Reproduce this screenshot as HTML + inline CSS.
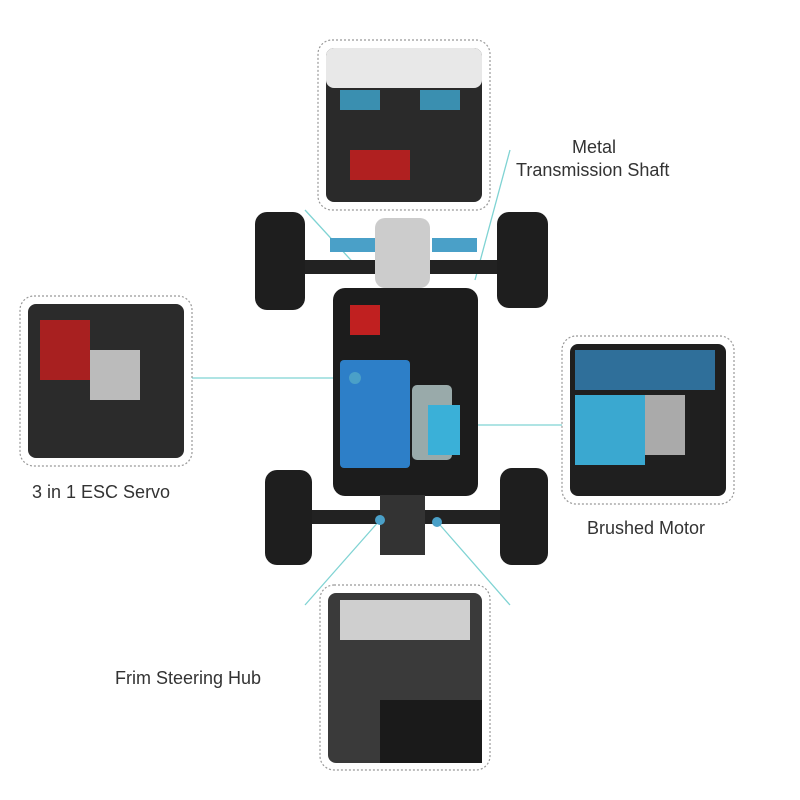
<!DOCTYPE html>
<html><head><meta charset="utf-8"><style>
html,body{margin:0;padding:0;background:#fff;width:800px;height:800px;overflow:hidden}
svg{display:block}
text{font-family:"Liberation Sans",sans-serif;fill:#333;font-size:18px}
</style></head><body>
<svg width="800" height="800" viewBox="0 0 800 800">
<!-- connector lines -->
<g stroke="#7fd3d3" stroke-width="1.3" fill="none">
<line x1="305" y1="210" x2="360" y2="270"/>
<line x1="510" y1="150" x2="475" y2="280"/>
<line x1="192" y1="378" x2="348" y2="378"/>
<line x1="458" y1="425" x2="562" y2="425"/>
<line x1="380" y1="520" x2="305" y2="605"/>
<line x1="440" y1="525" x2="510" y2="605"/>
</g>
<!-- boxes -->
<g fill="none" stroke="#999" stroke-width="1.2" stroke-dasharray="2,2">
<rect x="318" y="40" width="172" height="170" rx="14"/>
<rect x="20" y="296" width="172" height="170" rx="14"/>
<rect x="562" y="336" width="172" height="168" rx="14"/>
<rect x="320" y="585" width="170" height="185" rx="14"/>
</g>
<!-- top photo -->
<rect x="326" y="48" width="156" height="154" rx="8" fill="#2a2a2a"/>
<rect x="326" y="48" width="156" height="40" rx="8" fill="#e8e8e8"/>
<rect x="340" y="90" width="40" height="20" fill="#3a8fb0"/>
<rect x="420" y="90" width="40" height="20" fill="#3a8fb0"/>
<rect x="350" y="150" width="60" height="30" fill="#b02020"/>
<!-- left photo -->
<rect x="28" y="304" width="156" height="154" rx="8" fill="#2b2b2b"/>
<rect x="40" y="320" width="50" height="60" fill="#a82020"/>
<rect x="90" y="350" width="50" height="50" fill="#bbb"/>
<!-- right photo -->
<rect x="570" y="344" width="156" height="152" rx="8" fill="#1f1f1f"/>
<rect x="575" y="350" width="140" height="40" fill="#2f6f9a"/>
<rect x="575" y="395" width="70" height="70" fill="#3aa8d0"/>
<rect x="645" y="395" width="40" height="60" fill="#aaa"/>
<!-- bottom photo -->
<rect x="328" y="593" width="154" height="170" rx="8" fill="#3a3a3a"/>
<rect x="340" y="600" width="130" height="40" fill="#cfcfcf"/>
<rect x="380" y="700" width="102" height="63" fill="#1a1a1a"/>
<!-- car -->
<g>
<rect x="300" y="260" width="210" height="14" fill="#222"/>
<rect x="305" y="510" width="200" height="14" fill="#222"/>
<rect x="333" y="288" width="145" height="208" rx="12" fill="#1c1c1c"/>
<rect x="375" y="218" width="55" height="70" rx="10" fill="#ccc"/>
<rect x="330" y="238" width="45" height="14" fill="#4aa0c8"/>
<rect x="432" y="238" width="45" height="14" fill="#4aa0c8"/>
<rect x="340" y="360" width="70" height="108" rx="4" fill="#2d7fc8"/>
<rect x="412" y="385" width="40" height="75" rx="5" fill="#9aa"/>
<rect x="428" y="405" width="32" height="50" fill="#3ab0d8"/>
<rect x="350" y="305" width="30" height="30" fill="#c02020"/>
<rect x="380" y="495" width="45" height="60" fill="#333"/>
<rect x="255" y="212" width="50" height="98" rx="12" fill="#1e1e1e"/>
<rect x="497" y="212" width="51" height="96" rx="12" fill="#1e1e1e"/>
<rect x="265" y="470" width="47" height="95" rx="12" fill="#1e1e1e"/>
<rect x="500" y="468" width="48" height="97" rx="12" fill="#1e1e1e"/>
<circle cx="380" cy="520" r="5" fill="#4aa0c8"/>
<circle cx="437" cy="522" r="5" fill="#4aa0c8"/>
<circle cx="355" cy="378" r="6" fill="#4aa0c8"/>
</g>
<!-- labels -->
<text x="572" y="153">Metal</text>
<text x="516" y="176">Transmission Shaft</text>
<text x="32" y="498">3 in 1 ESC Servo</text>
<text x="587" y="534">Brushed Motor</text>
<text x="115" y="684">Frim Steering Hub</text>
</svg>
</body></html>
